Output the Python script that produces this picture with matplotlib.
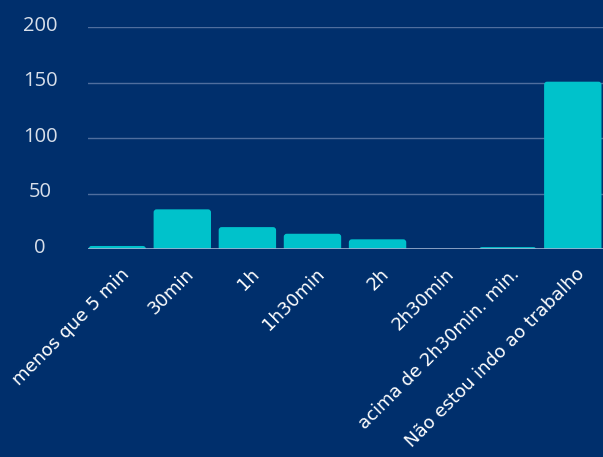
import matplotlib
matplotlib.use("Agg")
import matplotlib.pyplot as plt
from matplotlib.patches import FancyBboxPatch
from matplotlib.transforms import ScaledTranslation

categories = ["menos que 5 min", "30min", "1h", "1h30min", "2h", "2h30min",
              "acima de 2h30min. min.", "Não estou indo ao trabalho"]
values = [3, 36, 20, 14, 9, 0, 2, 151]
y_ticks = [0, 50, 100, 150, 200]

BG = "#002F6C"
BAR = "#00C2CB"
GRID = "#4F6E9E"
BASE = "#9FB2D2"

fig = plt.figure(figsize=(6.03, 4.57), dpi=100, facecolor=BG)
ax = fig.add_axes([88 / 603, (457 - 249.3) / 457, 515 / 603, 222 / 457])
ax.set_facecolor(BG)

x = list(range(len(categories)))
bars = ax.bar(x, values, width=0.882, color=BAR, zorder=3)

ax.set_xlim(-0.449, 7.464)
ax.set_ylim(0, 200)

# replace plain rectangles with top-rounded ones (bottom corners hidden below the axis)
px_per_x = 515 / (7.464 + 0.449)
px_per_y = 222 / 200
r_px = 3.0
for b in bars:
    bx, by, bw, bh = b.get_x(), b.get_y(), b.get_width(), b.get_height()
    b.set_visible(False)
    if bh <= 0:
        continue
    r_x = r_px / px_per_x
    ext = r_px / px_per_y
    patch = FancyBboxPatch((bx, by - ext), bw, bh + ext,
                           boxstyle=f"round,pad=0,rounding_size={r_x}",
                           mutation_aspect=px_per_x / px_per_y,
                           facecolor=BAR, edgecolor="none", zorder=3)
    ax.add_patch(patch)

# grid lines
for t in y_ticks[1:]:
    ax.axhline(t, color=GRID, lw=1.0, zorder=1)
ax.axhline(0, color=BASE, lw=1.2, zorder=4)

for s in ax.spines.values():
    s.set_visible(False)

ax.set_yticks(y_ticks)
ax.set_yticklabels([str(t) for t in y_ticks], fontsize=14.5, color="#D8DFEA",
                   family="Open Sans")
ax.tick_params(axis="y", length=0, pad=0)
for lab in ax.get_yticklabels():
    lab.set_horizontalalignment("center")
    lab.set_transform(lab.get_transform() + ScaledTranslation(-48 / 100, 4 / 100, fig.dpi_scale_trans))

ax.set_xticks(x)
ax.set_xticklabels(categories, rotation=45, rotation_mode="anchor", ha="right", va="center",
                   fontsize=13, color="white", family="DejaVu Sans")
ax.tick_params(axis="x", length=0, pad=0)
for lab in ax.get_xticklabels():
    lab.set_transform(lab.get_transform() + ScaledTranslation(9 / 100, -22 / 100, fig.dpi_scale_trans))

fig.savefig("out.png", dpi=100, facecolor=BG)
